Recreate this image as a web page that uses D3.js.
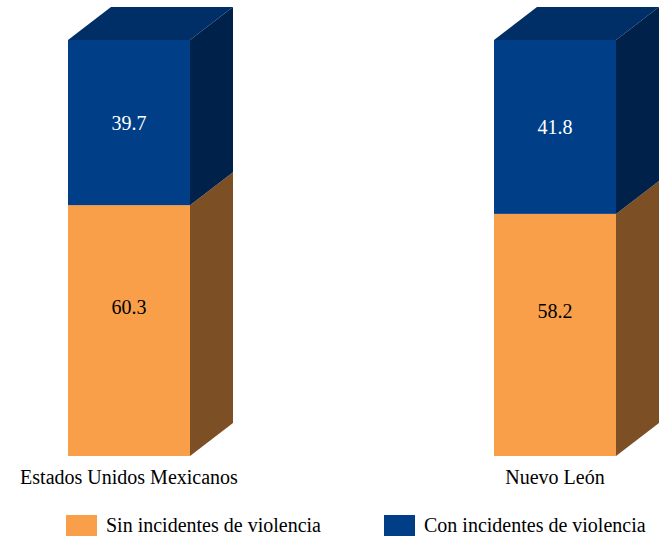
<!DOCTYPE html>
<html><head><meta charset="utf-8">
<script src="https://cdn.jsdelivr.net/npm/d3@7"></script>
<style>body{margin:0;background:#fff}svg{display:block}
svg text{font-family:"Liberation Serif","Times New Roman",Times,"DejaVu Serif",serif;}</style>
</head><body>
<script>
const categories = ["Estados Unidos Mexicanos", "Nuevo León"];
const seriesNames = ["Sin incidentes de violencia", "Con incidentes de violencia"];
const sinValues = [60.3, 58.2];
const conValues = [39.7, 41.8];

const W = 668, H = 540;
const svg = d3.select("body").append("svg").attr("width", W).attr("height", H);

const y = d3.scaleLinear().domain([0, 100]).range([456, 40]);
const x = d3.scalePoint().domain(categories).range([129, 555]);
const bw = 122, dx = 43, dy = 33;

const colors = [
  {front: "#F99F4A", side: "#7C4F24", top: "#7C4F24", text: "#000", labelShift: -24},
  {front: "#003F87", side: "#00214A", top: "#002E66", text: "#fff", labelShift: 0}
];

const stack = d3.stack().keys([0, 1]).value((d, k) => d.vals[k]);
const data = categories.map((c, i) => ({cat: c, vals: [sinValues[i], conValues[i]]}));
const series = stack(data);

series.forEach((s, si) => {
  const col = colors[si];
  s.forEach((seg, i) => {
    const cx = x(data[i].cat);
    const x0 = cx - bw / 2, x1 = cx + bw / 2;
    const yb = y(seg[0]), yt = y(seg[1]);
    const g = svg.append("g");
    g.append("path")
      .attr("d", `M${x1},${yb} L${x1 + dx},${yb - dy} L${x1 + dx},${yt - dy} L${x1},${yt} Z`)
      .attr("fill", col.side);
    if (si === series.length - 1) {
      g.append("path")
        .attr("d", `M${x0},${yt} L${x0 + dx},${yt - dy} L${x1 + dx},${yt - dy} L${x1},${yt} Z`)
        .attr("fill", col.top);
    }
    g.append("rect").attr("x", x0).attr("y", yt).attr("width", bw).attr("height", yb - yt)
      .attr("fill", col.front);
    g.append("text").attr("x", cx).attr("y", (yt + yb) / 2 + col.labelShift)
      .attr("text-anchor", "middle").attr("dominant-baseline", "central")
      .attr("font-size", 20).attr("fill", col.text)
      .text(d3.format(".1f")(seg[1] - seg[0]));
  });
});

svg.selectAll(".cat").data(categories).enter().append("text")
  .attr("x", d => x(d)).attr("y", 484)
  .attr("text-anchor", "middle")
  .attr("font-size", 20).attr("fill", "#000")
  .text(d => d);

const legX = [66, 384];
seriesNames.forEach((n, i) => {
  svg.append("rect").attr("x", legX[i]).attr("y", 515).attr("width", 31).attr("height", 21)
    .attr("fill", colors[i].front);
  svg.append("text").attr("x", legX[i] + 40).attr("y", 532)
    .attr("font-size", 20).attr("fill", "#000").text(n);
});
</script>
</body></html>
